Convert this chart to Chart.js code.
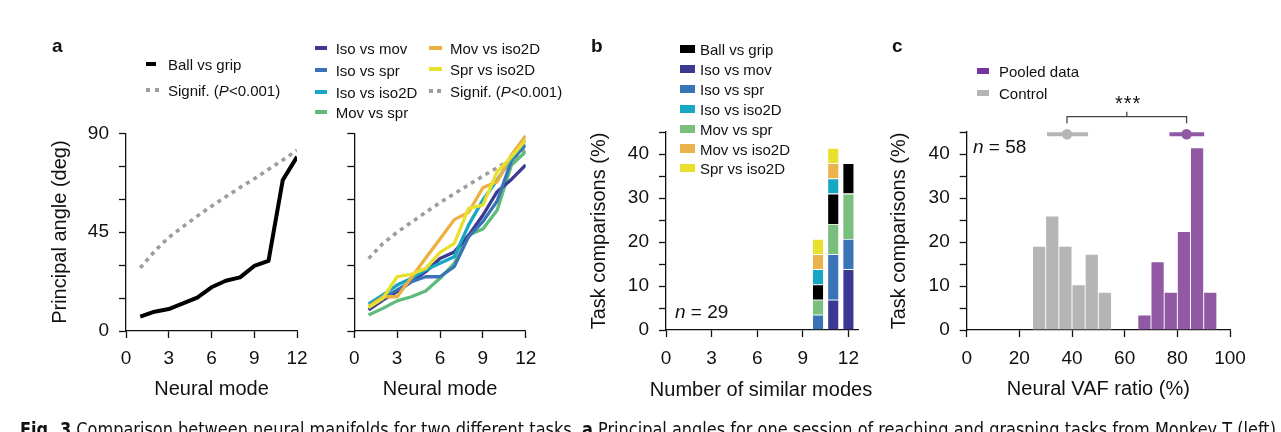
<!DOCTYPE html>
<html>
<head>
<meta charset="utf-8">
<script src="https://cdn.jsdelivr.net/npm/chart.js@4.4.1/dist/chart.umd.min.js"></script>
<style>
  html, body { margin:0; padding:0; background:#fff; }
  body { width:1281px; height:432px; overflow:hidden; position:relative; font-family:"Liberation Sans", Arial, Helvetica, sans-serif; color:#111; }
  canvas.full { position:absolute; left:0; top:0; }
  .txt { position:absolute; white-space:nowrap; line-height:1; font-size:15px; transform:translateY(-50%); }
  .sw { position:absolute; }
  .letter { position:absolute; font-weight:bold; font-size:19px; line-height:1; top:36px; }
  .note { position:absolute; white-space:nowrap; line-height:1; font-size:19px; transform:translateY(-50%); }
  .axtitle { position:absolute; white-space:nowrap; line-height:1; font-size:20px; transform:translate(-50%,-50%); color:#111; }
  #caption { position:absolute; left:20px; top:420px; white-space:nowrap; line-height:1; font-size:19px; font-family:"Liberation Sans Narrow", "DejaVu Sans Condensed", "Liberation Sans", sans-serif; transform-origin:0 0; color:#111; }
</style>
</head>
<body>
<canvas class="full" id="chartA1" width="1281" height="432"></canvas>
<canvas class="full" id="chartA2" width="1281" height="432"></canvas>
<canvas class="full" id="chartB" width="1281" height="432"></canvas>
<canvas class="full" id="chartC" width="1281" height="432"></canvas>

<div class="letter" style="left:52px">a</div>
<div class="letter" style="left:591px">b</div>
<div class="letter" style="left:892px">c</div>

<div class="note" style="left:675px; top:311px"><i>n</i> = 29</div>
<div class="note" style="left:973px; top:146px"><i>n</i> = 58</div>
<div style="position:absolute; left:1115px; top:93px; font-size:20px; line-height:1; letter-spacing:1px; white-space:nowrap">***</div>
<div class="axtitle" style="left:761px; top:389px">Number of similar modes</div>

<div id="caption"><b>Fig. 3</b> Comparison between neural manifolds for two different tasks. <b>a</b> Principal angles for one session of reaching and grasping tasks from Monkey T (left)</div>

<script>
// ---------------- DATA ----------------
// Panel a: principal angles (deg) per neural mode
const modes = [1, 2, 3, 4, 5, 6, 7, 8, 9, 10, 11, 12];
const ballVsGrip = [6.5, 8.8, 10.0, 12.6, 15.2, 19.9, 22.9, 24.4, 29.6, 31.9, 68.7, 79.3];
const signifLeft = [28.7, 36.3, 42.6, 47.5, 52.3, 56.8, 61.1, 65.3, 69.3, 73.6, 77.8, 82.3];
const isoVsMov   = [9.6, 14.1, 17.9, 22.5, 27.0, 33.0, 36.0, 43.5, 52.7, 63.4, 69.0, 75.6];
const isoVsSpr   = [11.0, 14.9, 18.7, 22.5, 24.7, 24.7, 29.3, 42.9, 49.8, 59.2, 77.5, 84.7];
const isoVsIso2D = [12.3, 16.4, 20.9, 24.0, 27.8, 30.8, 33.8, 48.2, 59.6, 68.7, 78.6, 86.9];
const movVsSpr   = [7.3, 10.3, 13.7, 15.6, 18.2, 24.0, 30.8, 43.7, 46.4, 55.0, 75.6, 81.6];
const movVsIso2D = [11.1, 15.6, 15.6, 24.4, 33.2, 41.9, 50.7, 54.0, 65.2, 68.0, 80.1, 88.9];
const sprVsIso2D = [10.6, 14.9, 24.7, 25.8, 28.5, 35.8, 39.9, 55.8, 57.3, 72.5, 79.3, 86.9];
const signifRight = [33.0, 39.8, 45.0, 49.5, 54.0, 58.5, 62.5, 66.5, 70.5, 74.3, 78.3, 82.4];
const angleTicks = [0, 15, 30, 45, 60, 75, 90];
const angleLabels = [0, 45, 90];
const modeTicks = [0, 3, 6, 9, 12];

// Panel b: task comparisons (%) by number of similar modes (n = 29)
const similarModes = [10, 11, 12];
const pctIsoVsMov   = [0, 6.9, 13.8];
const pctIsoVsSpr   = [3.45, 10.3, 6.9];
const pctMovVsSpr   = [3.45, 6.9, 10.3];
const pctBallVsGrip = [3.45, 6.9, 6.9];
const pctIsoVsIso2D = [3.45, 3.45, 0];
const pctMovVsIso2D = [3.45, 3.45, 0];
const pctSprVsIso2D = [3.45, 3.45, 0];
const pctTicks = [0, 5, 10, 15, 20, 25, 30, 35, 40, 45];
const pctLabels = [0, 10, 20, 30, 40];

// Panel c: neural VAF ratio histograms (n = 58)
const controlBinCenters = [27.5, 32.5, 37.5, 42.5, 47.5, 52.5];
const controlPct        = [19.0, 25.9, 19.0, 10.3, 17.2, 8.6];
const pooledBinCenters  = [67.5, 72.5, 77.5, 82.5, 87.5, 92.5];
const pooledPct         = [3.4, 15.5, 8.6, 22.4, 41.4, 8.6];
const controlSummary = [30.5, 38.1, 46.1];   // low, mean, high
const pooledSummary  = [77.0, 83.5, 90.2];   // low, mean, high
const vafTicks = [0, 20, 40, 60, 80, 100];

// ---------------- STYLE ----------------
const W = 1281, H = 432;
const FONT = "'Liberation Sans', Arial, Helvetica, sans-serif";
const tickFont = { size: 19, family: FONT };
const titleFont = { size: 20, family: FONT };
const C = {
  ball: '#000000', isoMov: '#3b3a92', isoSpr: '#3b73b7', isoIso2D: '#16a7c5',
  movSpr: '#5fbb7c', movSprBar: '#7bbf7f', movIso2D: '#ecb040', movIso2DBar: '#ebb34d',
  sprIso2D: '#e9e02e', signif: '#9d9d9d', control: '#b5b5b5', pooled: '#9159a4', pooledKey: '#7435a0'
};

Chart.defaults.font.family = FONT;
Chart.defaults.color = '#111';

function axis(min, max, ticks, labels, title, pad, isX, L) {
  return {
    type: 'linear', min: min, max: max, offset: false,
    afterBuildTicks: s => { s.ticks = ticks.map(v => ({ value: v })); },
    ticks: { display: true, font: tickFont, color: '#111', padding: pad, maxRotation: 0, minRotation: 0, autoSkip: false,
             callback: v => (labels.indexOf(v) >= 0 ? String(v) : '') },
    grid: { display: true, drawOnChartArea: false, drawTicks: true, tickLength: 7, tickColor: '#111', tickWidth: 1.3, offset: false },
    border: { display: true, color: '#111', width: 1.3 },
    title: { display: !!title, text: title || '', font: titleFont, color: '#111', padding: 0 },
    afterFit: isX ? (s => { s.height = L.xh; }) : (s => { s.width = L.left - L.padL; })
  };
}

function makeChart(id, type, datasets, L, xAxis, yAxis) {
  return new Chart(document.getElementById(id), {
    type: type,
    data: { datasets: datasets },
    options: {
      responsive: false, maintainAspectRatio: false, animation: false, events: [],
      layout: { padding: { left: L.padL, right: W - L.right, top: L.top, bottom: H - L.bottom - L.xh } },
      plugins: { legend: { display: false }, tooltip: { enabled: false } },
      scales: { x: xAxis, y: yAxis }
    }
  });
}

function lineDs(values, color, width, dash) {
  return {
    type: 'line', data: modes.map((m, i) => ({ x: m, y: values[i] })),
    borderColor: color, backgroundColor: color, borderWidth: width, borderDash: dash || [],
    pointRadius: 0, tension: 0, fill: false, borderJoinStyle: 'round', borderCapStyle: 'butt'
  };
}

// ---- Panel a (left)
const LA1 = { padL: 48, left: 126, right: 297, top: 133.3, bottom: 331, xh: 70 };
makeChart('chartA1', 'line', [
  lineDs(ballVsGrip, C.ball, 4),
  lineDs(signifLeft, C.signif, 3.6, [4, 4.5])
], LA1,
  axis(0, 12, modeTicks, modeTicks, 'Neural mode', 9, true, LA1),
  axis(0, 90, angleTicks, angleLabels, 'Principal angle (deg)', 10, false, LA1));

// ---- Panel a (right)
const LA2 = { padL: 340, left: 354.3, right: 525.7, top: 133.3, bottom: 331, xh: 70 };
makeChart('chartA2', 'line', [
  lineDs(sprVsIso2D, C.sprIso2D, 3.3),
  lineDs(movVsIso2D, C.movIso2D, 3.3),
  lineDs(isoVsIso2D, C.isoIso2D, 3.3),
  lineDs(isoVsSpr, C.isoSpr, 3.3),
  lineDs(isoVsMov, C.isoMov, 3.3),
  lineDs(movVsSpr, C.movSpr, 3.3),
  lineDs(signifRight, C.signif, 3.6, [4, 4.5])
], LA2,
  axis(0, 12, modeTicks, modeTicks, 'Neural mode', 9, true, LA2),
  axis(0, 90, angleTicks, [], '', 10, false, LA2));

// ---- Panel b
function stackDs(values, color) {
  return {
    type: 'bar',
    data: similarModes.map((m, i) => ({ x: m, y: values[i] })).filter(p => p.y > 0),
    backgroundColor: color, borderColor: 'rgba(255,255,255,0.55)', borderWidth: 0.8,
    barPercentage: 0.77, categoryPercentage: 1
  };
}
const LB = { padL: 587, left: 666, right: 858.3, top: 132, bottom: 330, xh: 71 };
const xB = axis(0, 12.65, modeTicks, modeTicks, '', 10, true, LB);
xB.stacked = true;
const yB = axis(0, 45, pctTicks, pctLabels, 'Task comparisons (%)', 10, false, LB);
yB.stacked = true;
makeChart('chartB', 'bar', [
  stackDs(pctIsoVsMov, C.isoMov),
  stackDs(pctIsoVsSpr, C.isoSpr),
  stackDs(pctMovVsSpr, C.movSprBar),
  stackDs(pctBallVsGrip, C.ball),
  stackDs(pctIsoVsIso2D, C.isoIso2D),
  stackDs(pctMovVsIso2D, C.movIso2DBar),
  stackDs(pctSprVsIso2D, C.sprIso2D)
], LB, xB, yB);

// ---- Panel c
const LC = { padL: 887, left: 966.7, right: 1230, top: 132, bottom: 330, xh: 71 };
const summaryY = 44.5;
function histDs(centers, values, color) {
  return {
    type: 'bar', data: centers.map((c, i) => ({ x: c, y: values[i] })),
    backgroundColor: color, borderColor: 'rgba(255,255,255,0.3)', borderWidth: 0.8,
    barPercentage: 1, categoryPercentage: 1, grouped: false
  };
}
function summaryDs(stats, color) {
  return {
    type: 'line', data: stats.map(v => ({ x: v, y: summaryY })),
    borderColor: color, backgroundColor: color, borderWidth: 4, borderCapStyle: 'butt',
    pointRadius: [0, 5.3, 0], pointBorderWidth: 0, pointBackgroundColor: color, clip: false, tension: 0
  };
}
const bracketMid = (controlSummary[1] + pooledSummary[1]) / 2;
makeChart('chartC', 'bar', [
  { type: 'line', data: [{ x: controlSummary[1], y: 47 }, { x: controlSummary[1], y: 48.5 }, { x: pooledSummary[1], y: 48.5 }, { x: pooledSummary[1], y: 47 }],
    borderColor: '#444', borderWidth: 1.3, pointRadius: 0, clip: false, tension: 0 },
  { type: 'line', data: [{ x: bracketMid, y: 48.5 }, { x: bracketMid, y: 49.6 }],
    borderColor: '#444', borderWidth: 1.3, pointRadius: 0, clip: false, tension: 0 },
  summaryDs(controlSummary, C.control),
  summaryDs(pooledSummary, C.pooled),
  histDs(controlBinCenters, controlPct, C.control),
  histDs(pooledBinCenters, pooledPct, C.pooled)
], LC,
  axis(0, 100, vafTicks, vafTicks, 'Neural VAF ratio (%)', 10, true, LC),
  axis(0, 45, pctTicks, pctLabels, 'Task comparisons (%)', 10, false, LC));

// ---------------- LEGENDS (HTML text) ----------------
function addText(x, y, html, size) {
  const d = document.createElement('div');
  d.className = 'txt'; d.style.left = x + 'px'; d.style.top = y + 'px';
  if (size) d.style.fontSize = size + 'px';
  d.innerHTML = html; document.body.appendChild(d);
}
function addSwatch(x, y, w, h, color) {
  const d = document.createElement('div');
  d.className = 'sw'; d.style.left = x + 'px'; d.style.top = (y - h / 2) + 'px';
  d.style.width = w + 'px'; d.style.height = h + 'px'; d.style.background = color;
  document.body.appendChild(d);
}
function addDashSwatch(x, y) {
  addSwatch(x, y, 4, 4, C.signif);
  addSwatch(x + 8.5, y, 4, 4, C.signif);
}
const signifText = 'Signif. (<i>P</i>&lt;0.001)';

// a left
addSwatch(146, 64, 10, 4, C.ball); addText(168, 64, 'Ball vs grip');
addDashSwatch(146, 90); addText(168, 90, signifText);

// a right
const aRightCol1 = [['Iso vs mov', C.isoMov, 48.3], ['Iso vs spr', C.isoSpr, 70], ['Iso vs iso2D', C.isoIso2D, 91.7], ['Mov vs spr', C.movSpr, 111.7]];
aRightCol1.forEach(r => { addSwatch(315, r[2], 12, 4, r[1]); addText(335.7, r[2], r[0]); });
addSwatch(428.5, 48.3, 13, 4, C.movIso2D); addText(450, 48.3, 'Mov vs iso2D');
addSwatch(428.5, 69.3, 13, 4, C.sprIso2D); addText(450, 69.3, 'Spr vs iso2D');
addDashSwatch(428.5, 90.7); addText(450, 90.7, signifText);

// b
const bLegend = [['Ball vs grip', C.ball], ['Iso vs mov', C.isoMov], ['Iso vs spr', C.isoSpr], ['Iso vs iso2D', C.isoIso2D],
                 ['Mov vs spr', C.movSprBar], ['Mov vs iso2D', C.movIso2DBar], ['Spr vs iso2D', C.sprIso2D]];
const bRows = [49, 69, 89, 109, 129, 148.5, 168];
bLegend.forEach((r, i) => { addSwatch(680, bRows[i], 15, 8.5, r[1]); addText(700, bRows[i], r[0]); });

// c
addSwatch(976.7, 71, 12.6, 6, C.pooledKey); addText(999, 71, 'Pooled data');
addSwatch(976.7, 93.3, 12.6, 6, C.control); addText(999, 93.3, 'Control');

// caption width fit
const cap = document.getElementById('caption');
const cw = cap.getBoundingClientRect().width;
if (cw > 0) cap.style.transform = 'scaleX(' + (1256 / cw) + ')';
</script>
</body>
</html>
